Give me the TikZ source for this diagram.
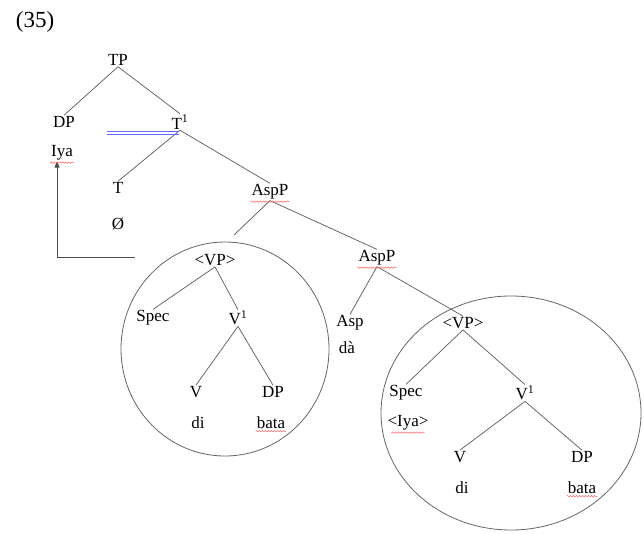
\documentclass[tikz,border=0pt]{standalone}
\usepackage{fontspec}
\setmainfont{Liberation Serif}
\usetikzlibrary{arrows.meta,decorations.pathmorphing}
\tikzset{
  lbl/.style={inner sep=1pt, font=\fontsize{17}{19}\selectfont},
  edge/.style={draw=black!65, line width=0.7pt},
  squig/.style={draw=red!60, line width=0.5pt, decorate, decoration={snake, amplitude=0.7pt, segment length=3pt}},
  ring/.style={draw=black!60, line width=0.8pt},
  blueline/.style={draw=blue!60!white, line width=0.8pt},
  movearrow/.style={draw=black!70, line width=0.8pt, -{Triangle[width=5pt,length=6pt]}}
}
\begin{document}
\begin{tikzpicture}[x=1pt,y=-1pt]
\useasboundingbox (0,0) rectangle (644,533);
% circles
\draw[ring] (225,349) ellipse [x radius=104pt, y radius=107pt];
\draw[ring] (511,413) ellipse [x radius=130pt, y radius=117pt];
% label
\node[inner sep=0pt, font=\fontsize{23}{26}\selectfont] (ex) at (35,22) {(35)};
% nodes
\node[lbl] (TP) at (118,60) {TP};
\node[lbl] (DP1) at (64,122) {DP};
\node[lbl] (T1) at (180,122) {T\textsuperscript{1}};
\node[lbl] (Iya1) at (62,153) {Iya};
\node[lbl] (T) at (118,188) {T};
\node[lbl] (null) at (118,224) {Ø};
\node[lbl] (AspP1) at (270,192) {AspP};
\node[lbl] (VPa) at (215,260) {\textless VP\textgreater};
\node[lbl] (Speca) at (153,318) {Spec};
\node[lbl] (Va) at (238,318) {V\textsuperscript{1}};
\node[lbl] (Vb) at (196,392) {V};
\node[lbl] (DPa) at (273,392) {DP};
\node[lbl] (dia) at (198,423) {di};
\node[lbl] (bataa) at (271,423) {bata};
\node[lbl] (AspP2) at (377,258) {AspP};
\node[lbl] (Asp) at (350,323) {Asp};
\node[lbl] (da) at (347,348) {dà};
\node[lbl] (VPb) at (463,323) {\textless VP\textgreater};
\node[lbl] (Specb) at (406,393) {Spec};
\node[lbl] (Iyab) at (408,423) {\textless Iya\textgreater};
\node[lbl] (Vc) at (525,393) {V\textsuperscript{1}};
\node[lbl] (Vd) at (460,457) {V};
\node[lbl] (DPb) at (582,457) {DP};
\node[lbl] (dib) at (462,488) {di};
\node[lbl] (batab) at (582,488) {bata};
% edges
\draw[edge] (TP.south) -- (DP1.north);
\draw[edge] (TP.south) -- (T1.north);
\draw[edge] (T1.south) -- (T.north);
\draw[edge] (T1.south) -- (AspP1.north);
\draw[edge, shorten >=26pt] (AspP1.south) -- (VPa.north);
\draw[edge] (AspP1.south) -- (AspP2.north);
\draw[edge] (VPa.south) -- (Speca.north);
\draw[edge] (VPa.south) -- (Va.north);
\draw[edge] (Va.south) -- (Vb.north);
\draw[edge] (Va.south) -- (DPa.north);
\draw[edge] (AspP2.south) -- (Asp.north);
\draw[edge] (AspP2.south) -- (VPb.north);
\draw[edge] (VPb.south) -- (Specb.north);
\draw[edge] (VPb.south) -- (Vc.north);
\draw[edge] (Vc.south) -- (Vd.north);
\draw[edge] (Vc.south) -- (DPb.north);
% blue double line
\coordinate (bl) at (107,131);
\coordinate (br) at (179,131);
\coordinate (bl2) at (107,134);
\coordinate (br2) at (179,134);
\draw[blueline] (bl) -- (br);
\draw[blueline] (bl2) -- (br2);
% movement arrow
\coordinate (arr) at (135,257);
\draw[movearrow] (arr) -| ([xshift=-5pt]Iya1.south);
% spell-check squiggles
\draw[squig] ([yshift=-1pt]Iya1.south west) -- ([yshift=-1pt]Iya1.south east);
\draw[squig] ([yshift=-1pt]AspP1.south west) -- ([yshift=-1pt]AspP1.south east);
\draw[squig] ([yshift=-1pt]AspP2.south west) -- ([yshift=-1pt]AspP2.south east);
\draw[squig] ([yshift=-1pt]bataa.south west) -- ([yshift=-1pt]bataa.south east);
\draw[squig] ([yshift=-1pt]batab.south west) -- ([yshift=-1pt]batab.south east);
\draw[squig] ([yshift=-1pt,xshift=5pt]Iyab.south west) -- ([yshift=-1pt,xshift=-5pt]Iyab.south east);
\end{tikzpicture}
\end{document}
